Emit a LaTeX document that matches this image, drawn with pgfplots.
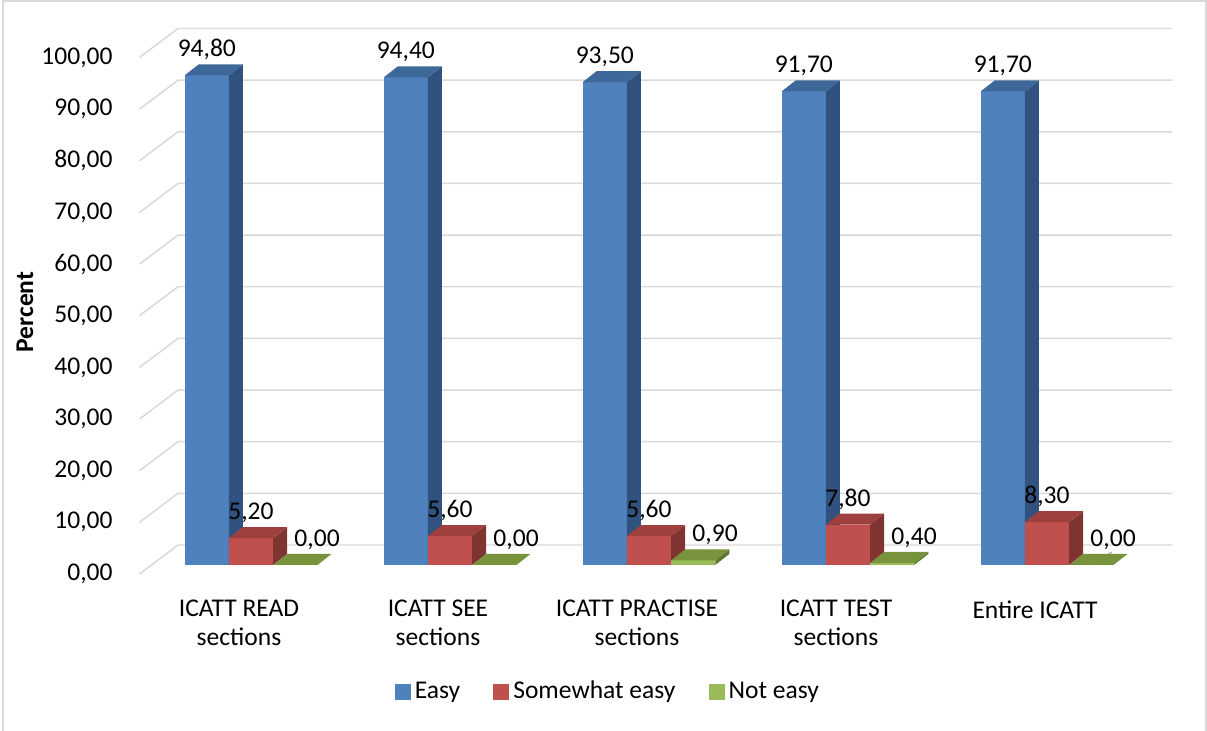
\documentclass[border=0pt]{standalone}
\usepackage{fontspec}
\setmainfont{Carlito}
\usepackage{pgfplots}
\pgfplotsset{compat=1.18}
\usepackage{pgfplotstable}

% face colours: front, side (right), top
\definecolor{easyF}{HTML}{4F81BD}
\definecolor{easyS}{HTML}{31527E}
\definecolor{easyT}{HTML}{3E679A}
\definecolor{someF}{HTML}{C0504D}
\definecolor{someS}{HTML}{7F3432}
\definecolor{someT}{HTML}{9E403E}
\definecolor{notF}{HTML}{9BBB59}
\definecolor{notS}{HTML}{5F7630}
\definecolor{notT}{HTML}{77933C}
\definecolor{gridC}{HTML}{D9D9D9}

\pgfkeys{/pgf/number format/.cd, fixed, fixed zerofill, precision=2, use comma, assume math mode=true}

\pgfplotstableread{
cat easy some not
0 94.8 5.2 0.0
1 94.4 5.6 0.0
2 93.5 5.6 0.9
3 91.7 7.8 0.4
4 91.7 8.3 0.0
}\datatable

% bar geometry (canvas): front width, depth offsets
\def\bw{20.774pt}
\def\dX{6.58pt}
\def\dY{5.17pt}

% draws one column whose top-front edge centre sits at the data point;
% its height comes from the value \bv times the y unit
\newcommand\cuboid[3]{%
  \pgfmathsetlengthmacro\hh{\bv*2.42755pt}%
  \pgfpathrectanglecorners{\pgfpoint{-0.5*\bw}{-\hh}}{\pgfpoint{0.5*\bw}{0pt}}%
  \pgfsetfillcolor{#1}\pgfusepath{fill}%
  \pgfpathmoveto{\pgfpoint{0.5*\bw}{-\hh}}%
  \pgfpathlineto{\pgfpoint{0.5*\bw+\dX}{\dY-\hh}}%
  \pgfpathlineto{\pgfpoint{0.5*\bw+\dX}{\dY}}%
  \pgfpathlineto{\pgfpoint{0.5*\bw}{0pt}}%
  \pgfpathclose
  \pgfsetfillcolor{#2}\pgfusepath{fill}%
  \pgfpathmoveto{\pgfpoint{-0.5*\bw}{0pt}}%
  \pgfpathlineto{\pgfpoint{0.5*\bw}{0pt}}%
  \pgfpathlineto{\pgfpoint{0.5*\bw+\dX}{\dY}}%
  \pgfpathlineto{\pgfpoint{-0.5*\bw+\dX}{\dY}}%
  \pgfpathclose
  \pgfsetfillcolor{#3}\pgfusepath{fill}%
}
\pgfdeclareplotmark{cubE}{\cuboid{easyF}{easyS}{easyT}}
\pgfdeclareplotmark{cubS}{\cuboid{someF}{someS}{someT}}
\pgfdeclareplotmark{cubN}{\cuboid{notF}{notS}{notT}}

\pgfplotsset{
  column3d/.style={
    scatter, only marks, forget plot,
    visualization depends on={rawy\as\bv},
    scatter/@pre marker code/.code={},
    scatter/@post marker code/.code={},
    nodes near coords,
    nodes near coords style={anchor=base, inner sep=0pt, yshift=8.7pt,
      text=black, fill=none, draw=none},
  },
}

\begin{document}
\fontsize{12}{13.6}\selectfont
\begin{tikzpicture}
\begin{axis}[
  x=93.53pt, y=2.42755pt,
  xmin=-0.5, xmax=4.5, ymin=0, ymax=100,
  clip=false,
  axis line style={draw=none},
  major tick length=0pt,
  scaled y ticks=false,
  xtick={0,1,2,3,4},
  xticklabels={{ICATT READ\\sections},{ICATT SEE\\sections},{ICATT PRACTISE\\sections},{ICATT TEST\\sections},{Entire ICATT}},
  xticklabel style={align=center, anchor=north, inner sep=0pt, xshift=-5.64pt, yshift=-16.45pt},
  ytick={0,10,...,100},
  yticklabel style={anchor=east, inner sep=0pt, xshift=-18.1pt, yshift=-4.23pt},
  ylabel={\bfseries Percent},
  every axis y label/.style={at={(axis description cs:-0.12714,0.48984)}, rotate=90, anchor=center},
  legend style={at={(axis description cs:0.4598,-0.24589)}, anchor=center,
    draw=none, fill=none, legend columns=3,
    /tikz/every even column/.append style={column sep=13.6pt}},
  legend cell align=left,
]
% chart frame
\draw[gridC, line width=0.9pt]
  (axis description cs:-0.14925,-0.32139) -- (axis description cs:-0.14925,1.09197)
  -- (axis description cs:1.05980,1.09197) -- (axis description cs:1.05980,-0.32139);
% side wall and back wall grid lines
\pgfplotsinvokeforeach{0,10,...,100}{
  \draw[gridC, line width=0.7pt] (axis cs:-0.5603,{#1-1.7425}) -- (axis cs:-0.36683,{#1+3.872}) -- (axis cs:4.62814,{#1+3.872});
}

\addplot[column3d, mark=cubE]
  table[x expr=\thisrow{cat}-0.222, y=easy]{\datatable};
\addplot[column3d, mark=cubS]
  table[x expr=\thisrow{cat}, y=some]{\datatable};
\addplot[column3d, mark=cubN, nodes near coords style={xshift=10.3pt}]
  table[x expr=\thisrow{cat}+0.222, y=not]{\datatable};

\draw[black!35, line width=0.5pt] (axis cs:4.2161,0) -- (axis cs:4.3266,2.517);

\addlegendimage{legend image code/.code={\fill[easyF] (0pt,-3.5pt) rectangle (7pt,3.5pt);}}
\addlegendentry{Easy}
\addlegendimage{legend image code/.code={\fill[someF] (0pt,-3.5pt) rectangle (7pt,3.5pt);}}
\addlegendentry{Somewhat easy}
\addlegendimage{legend image code/.code={\fill[notF] (0pt,-3.5pt) rectangle (7pt,3.5pt);}}
\addlegendentry{Not easy}

\coordinate (bbSW) at (axis description cs:-0.15226,-0.32139);
\coordinate (bbNE) at (axis description cs:1.06080,1.09390);
\end{axis}
\pgfresetboundingbox
\path[use as bounding box] (bbSW) rectangle (bbNE);
\end{tikzpicture}
\end{document}
